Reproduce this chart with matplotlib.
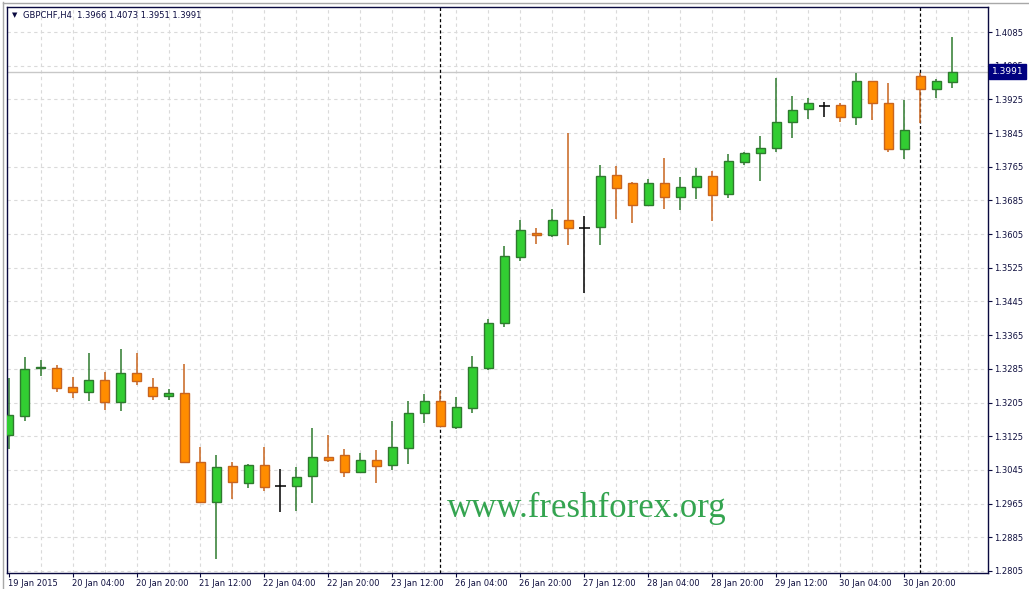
import matplotlib.pyplot as plt
import matplotlib.transforms as mtransforms
from matplotlib.lines import Line2D

# GBPCHF H4 candles
opens = [1.3127, 1.3174, 1.3288, 1.3286, 1.3241, 1.3231, 1.3258, 1.3207, 1.3275, 1.3241,
         1.3221, 1.3228, 1.3065, 1.2970, 1.3054, 1.3015, 1.3056, 1.3008, 1.3006, 1.3030,
         1.3076, 1.3080, 1.3041, 1.3068, 1.3057, 1.3096, 1.3180, 1.3208, 1.3148, 1.3193,
         1.3288, 1.3395, 1.3551, 1.3608, 1.3604, 1.3638, 1.3620, 1.3621, 1.3745, 1.3726,
         1.3673, 1.3726, 1.3692, 1.3718, 1.3742, 1.3700, 1.3776, 1.3797, 1.3809, 1.3871,
         1.3901, 1.3910, 1.3911, 1.3884, 1.3968, 1.3916, 1.3806, 1.3980, 1.3949, 1.3966]
highs = [1.3263, 1.3313, 1.3306, 1.3294, 1.3266, 1.3323, 1.3278, 1.3332, 1.3323, 1.3263,
         1.3237, 1.3297, 1.3100, 1.3081, 1.3064, 1.3059, 1.3100, 1.3047, 1.3052, 1.3144,
         1.3127, 1.3095, 1.3085, 1.3092, 1.3160, 1.3209, 1.3225, 1.3232, 1.3218, 1.3316,
         1.3404, 1.3577, 1.3639, 1.3620, 1.3665, 1.3844, 1.3647, 1.3769, 1.3767, 1.3728,
         1.3736, 1.3786, 1.3741, 1.3762, 1.3756, 1.3795, 1.3801, 1.3838, 1.3975, 1.3932,
         1.3928, 1.3919, 1.3916, 1.3988, 1.3969, 1.3964, 1.3924, 1.3987, 1.3973, 1.4073]
lows = [1.3095, 1.3160, 1.3269, 1.3231, 1.3216, 1.3209, 1.3187, 1.3186, 1.3247, 1.3211,
        1.3212, 1.3062, 1.2968, 1.2834, 1.2976, 1.3001, 1.2996, 1.2944, 1.2948, 1.2967,
        1.3065, 1.3029, 1.3038, 1.3015, 1.3046, 1.3060, 1.3156, 1.3150, 1.3141, 1.3179,
        1.3282, 1.3385, 1.3540, 1.3582, 1.3598, 1.3579, 1.3465, 1.3580, 1.3642, 1.3632,
        1.3672, 1.3665, 1.3662, 1.3688, 1.3637, 1.3691, 1.3768, 1.3732, 1.3801, 1.3834,
        1.3878, 1.3884, 1.3872, 1.3864, 1.3877, 1.3801, 1.3783, 1.3870, 1.3928, 1.3951]
closes = [1.3175, 1.3284, 1.3289, 1.3240, 1.3231, 1.3258, 1.3207, 1.3275, 1.3257, 1.3221,
          1.3228, 1.3065, 1.2969, 1.3051, 1.3017, 1.3056, 1.3005, 1.3008, 1.3028, 1.3075,
          1.3069, 1.3039, 1.3068, 1.3055, 1.3099, 1.3180, 1.3208, 1.3150, 1.3194, 1.3289,
          1.3393, 1.3552, 1.3614, 1.3604, 1.3638, 1.3619, 1.3620, 1.3742, 1.3715, 1.3674,
          1.3726, 1.3692, 1.3716, 1.3742, 1.3699, 1.3778, 1.3797, 1.3809, 1.3871, 1.3899,
          1.3916, 1.3910, 1.3884, 1.3968, 1.3917, 1.3806, 1.3852, 1.3949, 1.3968, 1.3991]

price_ticks = [1.2805, 1.2885, 1.2965, 1.3045, 1.3125, 1.3205, 1.3285, 1.3365, 1.3445,
               1.3525, 1.3605, 1.3685, 1.3765, 1.3845, 1.3925, 1.4005, 1.4085]
date_pos = [0, 4, 8, 12, 16, 20, 24, 28, 32, 36, 40, 44, 48, 52, 56]
date_labels = ['19 Jan 2015', '20 Jan 04:00', '20 Jan 20:00', '21 Jan 12:00', '22 Jan 04:00',
               '22 Jan 20:00', '23 Jan 12:00', '26 Jan 04:00', '26 Jan 20:00', '27 Jan 12:00',
               '28 Jan 04:00', '28 Jan 20:00', '29 Jan 12:00', '30 Jan 04:00', '30 Jan 20:00']
week_starts = [27, 57]
bid = 1.3991
header = 'GBPCHF,H4  1.3966 1.4073 1.3951 1.3991'

W, H = 1029, 589
navy = '#0a0a40'
up_fill, up_edge = '#32cd32', '#2e7a2e'
dn_fill, dn_edge = '#ff8c00', '#c8641e'

fig = plt.figure(figsize=(W / 100, H / 100), dpi=100)
ax = fig.add_axes([7 / W, 16 / H, 981 / W, 566 / H])

# grid
for p in price_ticks:
    ax.axhline(p, color='#dadada', lw=0.8, ls=(0, (3, 3)), zorder=0)
for i in range(2, 62, 2):
    ax.axvline(i, color='#dadada', lw=0.8, ls=(0, (3, 3)), zorder=0)

# bid line and week separators
ax.axhline(bid, color='#c8c8c8', lw=1, zorder=1)
for s in week_starts:
    ax.axvline(s, color='black', lw=0.9, ls=(0, (2.5, 2)), zorder=1)

# candles
x = list(range(len(opens)))
for i in x:
    o, h, l, c = opens[i], highs[i], lows[i], closes[i]
    if c > o:
        fill, edge = up_fill, up_edge
    elif c < o:
        fill, edge = dn_fill, dn_edge
    else:
        fill, edge = 'black', 'black'
    ax.vlines(i, l, h, color=edge, lw=1.1, zorder=2)
    if c == o:
        ax.hlines(o, i - 0.34, i + 0.34, color='black', lw=1.1, zorder=3)
    else:
        ax.bar(i, abs(c - o), bottom=min(o, c), width=0.62, color=fill,
               edgecolor=edge, lw=1, zorder=3)

ax.set_xlim(-0.094, 61.22)
ax.set_ylim(1.28002, 1.41444)

# axes styling
for sp in ax.spines.values():
    sp.set_color(navy)
    sp.set_linewidth(1)
ax.yaxis.tick_right()
ax.set_yticks(price_ticks)
ax.set_yticklabels([f'{p:.4f}' for p in price_ticks])
ax.tick_params(axis='y', length=3, width=0.8, color=navy, pad=1.5,
               labelsize=6, labelcolor='#101040')
ax.set_xticks(date_pos)
ax.set_xticklabels(date_labels, ha='left')
ax.tick_params(axis='x', length=3, width=0.8, color=navy, pad=1.5,
               labelsize=6, labelcolor='#101040')
offset = mtransforms.ScaledTranslation(-1 / 100, 0, fig.dpi_scale_trans)
for lab in ax.get_xticklabels():
    lab.set_transform(lab.get_transform() + offset)

# current price tag
trans = mtransforms.blended_transform_factory(ax.transAxes, ax.transData)
ax.text(1.004, bid, f'{bid:.4f}', transform=trans, ha='left', va='center',
        fontsize=6.6, color='white', clip_on=False, zorder=10,
        bbox=dict(boxstyle='square,pad=0.3', fc='#000080', ec='#000080'))

# header and watermark
fig.text(12 / W, 1 - 15.5 / H, '\u25bc', fontsize=5, color=navy, va='center')
fig.text(23 / W, 1 - 15.5 / H, header, fontsize=6, color=navy, va='center')
fig.text(447 / W, 1 - 517 / H, 'www.freshforex.org', fontsize=25,
         family='Liberation Serif', color='#34a450', va='baseline')

# window frame
fig.add_artist(Line2D([2.5 / W, 2.5 / W], [0, 1 - 2 / H], color='#a8a8a8', lw=1))
fig.add_artist(Line2D([2.5 / W, 1], [1 - 2.5 / H, 1 - 2.5 / H], color='#a8a8a8', lw=1))

fig.savefig('out.png', dpi=100)
